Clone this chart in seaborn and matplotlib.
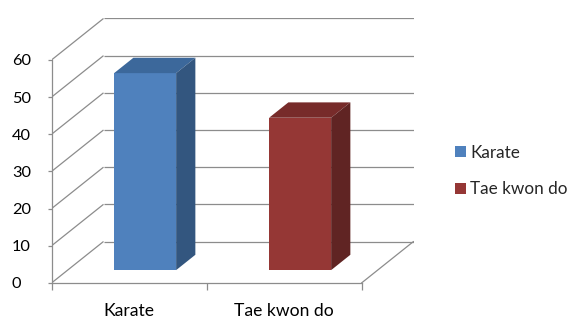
import matplotlib
matplotlib.use("Agg")
import matplotlib.pyplot as plt
import seaborn as sns
from matplotlib.patches import Polygon, Patch
from matplotlib.transforms import Affine2D

categories = ["Karate", "Tae kwon do"]
values = [53, 41]
yticks = [0, 10, 20, 30, 40, 50, 60]
front_colors = ["#4F81BD", "#953735"]
top_colors = ["#3C689B", "#772B2A"]
side_colors = ["#33567F", "#602423"]

sns.set_theme(style="white")
plt.rcParams["font.family"] = ["Lato", "DejaVu Sans"]

W, H = 571, 323
fig = plt.figure(figsize=(W / 100, H / 100), dpi=100)

# pixel geometry of the oblique box
px_per_cat = 155.0
px_per_unit = 3.717
left_px, bottom_px, top_px = 51.5, 283.0, 18.0
DX = 52.0 / px_per_cat        # full depth offset in data x
DY = 41.5 / px_per_unit       # full depth offset in data y
ymax = (bottom_px - top_px) / px_per_unit
xmin = -0.5
xmax = 1.5 + DX
right_px = left_px + (xmax - xmin) * px_per_cat

ax = fig.add_axes([left_px / W, (H - bottom_px) / H,
                   (right_px - left_px) / W, (bottom_px - top_px) / H])

grid_c = "#8C8C8C"
lw = 0.9
# gridlines: left wall diagonals + back wall horizontals
for v in yticks:
    ax.plot([-0.5, -0.5 + DX], [v, v + DY], color=grid_c, lw=lw, zorder=1,
            solid_capstyle="butt")
    ax.plot([-0.5 + DX, 1.5 + DX], [v + DY, v + DY], color=grid_c, lw=lw,
            zorder=1, solid_capstyle="butt")
# floor right edge
ax.plot([1.5, 1.5 + DX], [0, DY], color=grid_c, lw=lw, zorder=1)

# bars (front faces) via seaborn
sns.barplot(x=categories, y=values, hue=categories, palette=front_colors,
            width=0.4, saturation=1, legend=False, ax=ax, zorder=3,
            linewidth=0, dodge=False)

d1, d2 = 0.31, 0.68
for i, p in enumerate(ax.patches):
    x0 = p.get_x()
    w = p.get_width()
    h = p.get_height()
    ox, oy = DX * d1, DY * d1
    p.set_transform(Affine2D().translate(ox, oy) + ax.transData)
    ddx, ddy = DX * (d2 - d1), DY * (d2 - d1)
    # top face
    top = Polygon([(x0 + ox, h + oy), (x0 + w + ox, h + oy),
                   (x0 + w + ox + ddx, h + oy + ddy), (x0 + ox + ddx, h + oy + ddy)],
                  closed=True, facecolor=top_colors[i], edgecolor="none", zorder=3)
    side = Polygon([(x0 + w + ox, oy), (x0 + w + ox + ddx, oy + ddy),
                    (x0 + w + ox + ddx, h + oy + ddy), (x0 + w + ox, h + oy)],
                   closed=True, facecolor=side_colors[i], edgecolor="none", zorder=3)
    ax.add_patch(top)
    ax.add_patch(side)

ax.set_xlim(xmin, xmax)
ax.set_ylim(0, ymax)

# axes spines
for s in ["top", "right"]:
    ax.spines[s].set_visible(False)
for s in ["left", "bottom"]:
    ax.spines[s].set_color(grid_c)
    ax.spines[s].set_linewidth(lw)
ax.spines["left"].set_bounds(0, 60)
ax.spines["bottom"].set_bounds(-0.5, 1.5)

ax.set_yticks(yticks)
ax.set_yticklabels([str(v) for v in yticks])
ax.tick_params(axis="y", left=True, length=3, width=lw, color=grid_c,
               pad=25.5, labelsize=11.8, labelcolor="#000000")
for lbl in ax.get_yticklabels():
    lbl.set_horizontalalignment("left")

ax.set_xticks([0, 1])
ax.set_xticklabels(categories)
ax.set_xticks([-0.5, 0.5, 1.5], minor=True)
ax.tick_params(axis="x", which="major", bottom=False, length=0, pad=14.5,
               labelsize=12.6, labelcolor="#000000")
ax.tick_params(axis="x", which="minor", bottom=True, length=5, width=lw,
               color=grid_c)
ax.set_xlabel("")
ax.set_ylabel("")
ax.set_facecolor("none")

handles = [Patch(facecolor=c, edgecolor="none") for c in front_colors]
fig.legend(handles, categories, loc="center left",
           bbox_to_anchor=(455 / W, 1 - 171 / H), bbox_transform=fig.transFigure,
           frameon=False, borderpad=0, borderaxespad=0, handlelength=0.65,
           handleheight=0.65, handletextpad=0.25, labelspacing=1.2,
           prop={"size": 12.3})

fig.savefig("out.png", dpi=100)
